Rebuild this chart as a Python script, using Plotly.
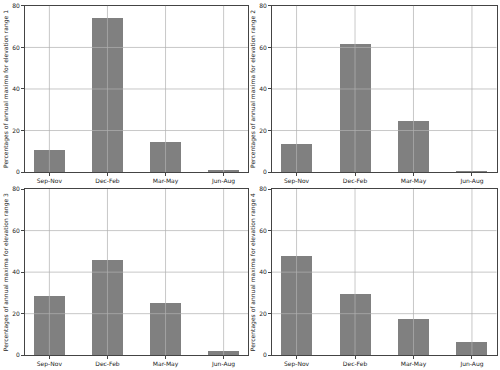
import plotly.graph_objects as go
from plotly.subplots import make_subplots

seasons = ["Sep-Nov", "Dec-Feb", "Mar-May", "Jun-Aug"]
range_1 = [10.8, 74.0, 14.5, 0.8]
range_2 = [13.7, 61.9, 24.7, 0.3]
range_3 = [28.3, 45.7, 25.0, 2.0]
range_4 = [47.8, 29.3, 17.6, 6.2]
y_ticks = [0, 20, 40, 60, 80]

panels = [range_1, range_2, range_3, range_4]

fig = make_subplots(rows=2, cols=2)

axis_font = {"family": "DejaVu Sans", "size": 6, "color": "#222"}
grid_color = "rgba(176,176,176,0.7)"

x_domains = [[0.05, 0.496], [0.544, 0.993]]
y_domains = [[0.535, 0.984], [0.04, 0.489]]

for i, values in enumerate(panels):
    row, col = i // 2 + 1, i % 2 + 1
    fig.add_trace(
        go.Bar(
            x=seasons,
            y=values,
            width=0.53,
            marker={"color": "#808080", "line": {"width": 0}},
            showlegend=False,
        ),
        row=row,
        col=col,
    )
    suffix = "" if i == 0 else str(i + 1)
    xref, yref = "x" + suffix, "y" + suffix
    # grid drawn on top of the bars, like matplotlib does
    for t in y_ticks[1:-1]:
        fig.add_shape(
            type="line", xref=xref + " domain", yref=yref,
            x0=0, x1=1, y0=t, y1=t,
            line={"color": grid_color, "width": 1}, layer="above",
        )
    for s in seasons:
        fig.add_shape(
            type="line", xref=xref, yref=yref + " domain",
            x0=s, x1=s, y0=0, y1=1,
            line={"color": grid_color, "width": 1}, layer="above",
        )
    fig.update_xaxes(
        domain=x_domains[col - 1],
        range=[-0.42, 3.42],
        automargin=False,
        showgrid=False,
        showline=True, mirror=True, linecolor="#444", linewidth=1,
        ticks="outside", ticklen=3, tickcolor="#444",
        tickfont=axis_font,
        row=row, col=col,
    )
    fig.update_yaxes(
        domain=y_domains[row - 1],
        range=[0, 80],
        tickvals=y_ticks,
        automargin=False,
        showgrid=False, zeroline=False,
        showline=True, mirror=True, linecolor="#444", linewidth=1,
        ticks="outside", ticklen=3, tickcolor="#444",
        tickfont=axis_font,
        title={"text": f"Percentages of annual maxima for elevation range {i + 1}",
               "font": axis_font, "standoff": 3},
        row=row, col=col,
    )

fig.update_layout(
    width=500,
    height=370,
    margin={"l": 0, "r": 0, "t": 0, "b": 0},
    plot_bgcolor="white",
    paper_bgcolor="white",
    bargap=0,
)

fig.write_html(
    "out.html",
    config={"displayModeBar": False},
    post_script="document.body.style.margin = '0';",
)
